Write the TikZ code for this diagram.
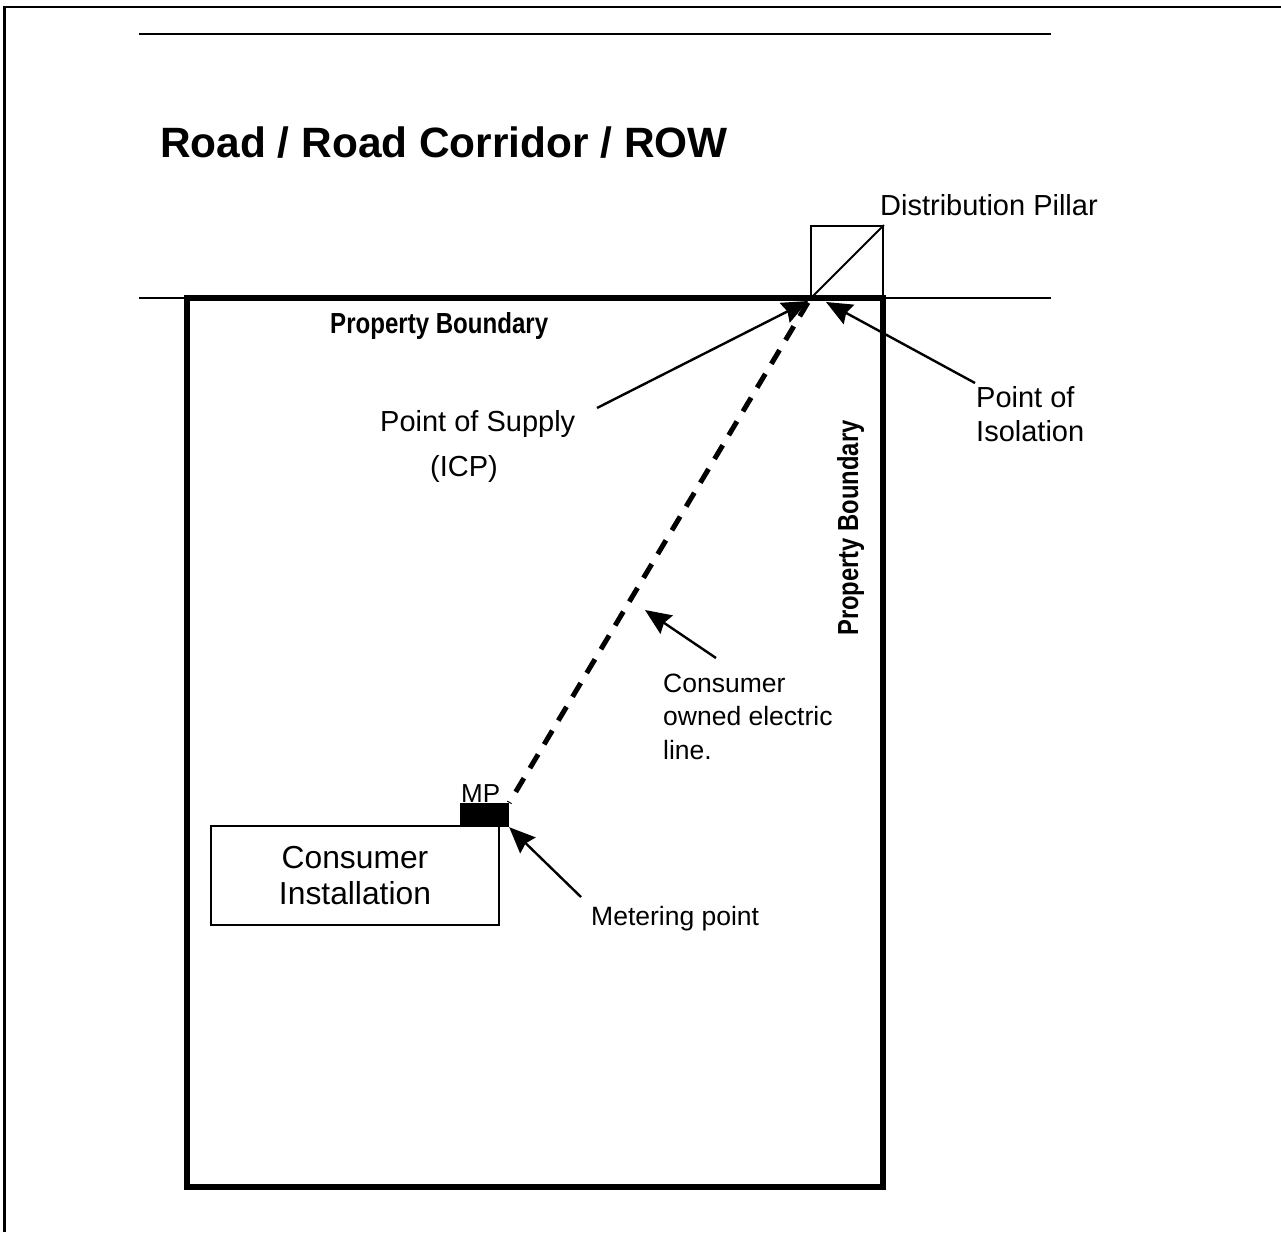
\documentclass[tikz,border=0pt]{standalone}
\usepackage{fontspec}
\setmainfont{Liberation Sans}
\usepackage{tikz}
\usetikzlibrary{arrows.meta,positioning,calc}

\begin{document}
\begin{tikzpicture}[
    x=1pt, y=-1pt,
    txt/.style={inner sep=0pt, anchor=base west, font=\fontsize{29}{34}\selectfont, align=left},
    smalltxt/.style={txt, font=\fontsize{26.5}{33.5}\selectfont},
    bdrytxt/.style={inner sep=0pt, anchor=base west, font=\fontsize{29}{33}\selectfont\bfseries},
    box/.style={rectangle, draw, line width=1.8pt, inner sep=0pt},
    pointer/.style={-{Stealth[length=26pt, width=22pt, inset=3pt]}, line width=2.4pt},
    >=Stealth
]
    \useasboundingbox (0,0) rectangle (1281,1232);

    % Frame
    \coordinate (framebl) at (4.7,1232);
    \coordinate (frametl) at (4.7,6.9);
    \coordinate (frametr) at (1281,6.9);
    \draw[line width=2.6pt, line join=miter] (framebl) -- (frametl) -- (frametr);

    % Road lines
    \coordinate (roadtop1) at (139,34);
    \coordinate (roadtop2) at (1051,34);
    \coordinate (roadlow1) at (139,298);
    \coordinate (roadlow2) at (1051,298);
    \draw[line width=2pt] (roadtop1) -- (roadtop2);
    \draw[line width=2pt] (roadlow1) -- (roadlow2);
    \node[txt, font=\fontsize{42.4}{48}\selectfont\bfseries] (road) at (160,157) {Road / Road Corridor / ROW};

    % Property
    \node[box, line width=6.5pt, minimum width=696pt, minimum height=889pt] (property) at (535,742.5) {};
    \node[bdrytxt] (bdrytop) at (330,333) {\scalebox{0.83}[1]{Property Boundary}};
    \node[bdrytxt, rotate=90] (bdryright) at (858,636) {\scalebox{0.82}[1]{Property Boundary}};

    % Pillar
    \node[box, minimum width=72pt, minimum height=72pt] (pillar) at (847,262) {};
    \draw[line width=1.8pt] (pillar.south west) -- (pillar.north east);
    \node[txt] (pillarlabel) at (880,215) {Distribution Pillar};

    % Installation
    \node[box, minimum width=288pt, minimum height=99pt, align=center, font=\fontsize{31.8}{36}\selectfont] (install) at (355,875.5) {Consumer\\Installation};
    \node[rectangle, fill=black, inner sep=0pt, minimum width=49pt, minimum height=24pt] (mp) at (484.5,815) {};
    \node[txt, font=\fontsize{26}{28}\selectfont] (mplabel) at (461,802) {MP};

    % Consumer line
    \draw[line width=5pt, dash pattern=on 16pt off 11.7pt, dash phase=15pt] (mp.north east) -- (pillar.south west);

    % Labels
    \node[txt] (supply) at (380,431) {Point of Supply};
    \node[txt] (icp) at (430,476) {(ICP)};
    \node[txt] (isolation) at (976,441) {Point of\\Isolation};
    \node[smalltxt] (owned) at (663,759) {Consumer\\owned electric\\line.};
    \node[smalltxt] (metering) at (591,925) {Metering point};

    % Pointers
    \coordinate (supplytail) at (597,408);
    \coordinate (supplytip) at (808,301);
    \coordinate (isotail) at (975,383);
    \coordinate (isotip) at (826,302);
    \coordinate (ownedtail) at (716,658);
    \coordinate (ownedtip) at (645,610);
    \coordinate (metertail) at (581,897);
    \draw[pointer] (supplytail) -- (supplytip);
    \draw[pointer] (isotail) -- (isotip);
    \draw[pointer] (ownedtail) -- (ownedtip);
    \draw[pointer] (metertail) -- (mp.south east);
\end{tikzpicture}
\end{document}
